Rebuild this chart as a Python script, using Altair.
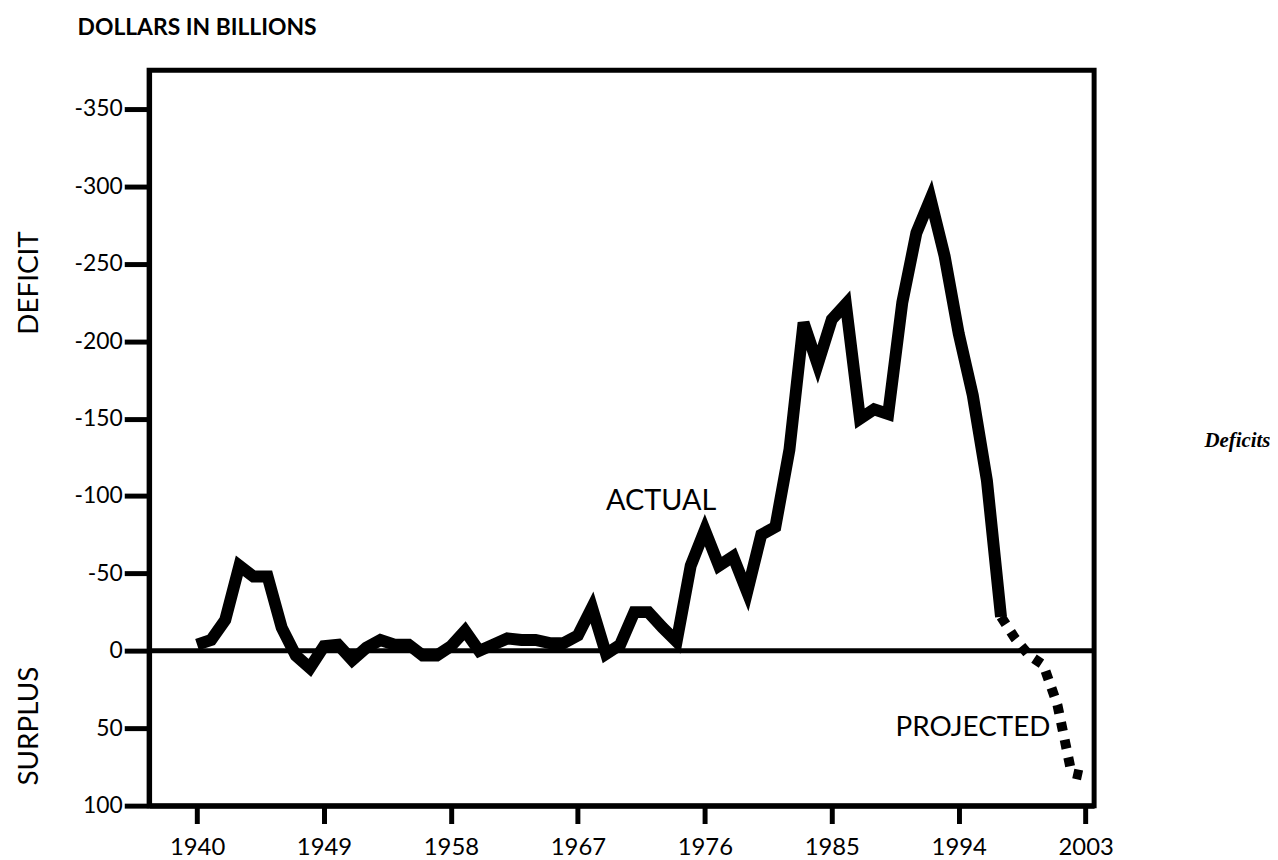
import altair as alt
import pandas as pd

# ---- data ----
years_actual = list(range(1940, 1998))
values_actual = [
    -4, -7, -20, -55, -48, -48, -15, 3, 11, -3,        # 1940-1949
    -4, 6, -2, -7, -4, -4, 3, 3, -3, -13,              # 1950-1959
    0, -4, -8, -7, -7, -5, -5, -10, -28, 2,            # 1960-1969
    -4, -25, -25, -15, -6, -55, -78, -55, -61, -38,    # 1970-1979
    -75, -80, -130, -212, -185, -214, -224, -150, -156, -153,  # 1980-1989
    -225, -270, -292, -255, -205, -165, -110, -22,     # 1990-1997
]
years_proj = [1997, 1998, 1999, 2000, 2001, 2002, 2003]
values_proj = [-22, -8, 3, 9, 35, 79, 81]

y_ticks = [-350, -300, -250, -200, -150, -100, -50, 0, 50, 100]
x_ticks = [1940, 1949, 1958, 1967, 1976, 1985, 1994, 2003]

ann_text = ["ACTUAL", "PROJECTED"]
ann_year = [1972.9, 2000.5]
ann_value = [-97, 50]

FONT = "Lato"

actual_df = pd.DataFrame({"year": years_actual, "value": values_actual})
proj_df = pd.DataFrame({"year": years_proj, "value": values_proj})
ann_df = pd.DataFrame({"t": ann_text, "year": ann_year, "value": ann_value})

x_scale = alt.Scale(domain=[1936.6, 2003.6], nice=False, zero=False)
y_scale = alt.Scale(domain=[-375, 100], reverse=True, nice=False, zero=False)

x_axis = alt.Axis(values=x_ticks, format="d", title=None, grid=False,
                  tickSize=18, tickWidth=5, tickColor="black",
                  domainWidth=5, domainColor="black",
                  labelFontSize=24, labelFont=FONT, labelColor="black",
                  labelPadding=12)
y_axis = alt.Axis(values=y_ticks, title=None, grid=False,
                  labelExpr="'' + datum.value",
                  tickSize=25, tickWidth=5, tickColor="black",
                  domainWidth=5, domainColor="black",
                  labelFontSize=23, labelFont=FONT, labelColor="black",
                  labelPadding=2)

actual = alt.Chart(actual_df).mark_line(
    color="black", strokeWidth=12, strokeJoin="miter", strokeCap="butt"
).encode(
    x=alt.X("year:Q", scale=x_scale, axis=x_axis),
    y=alt.Y("value:Q", scale=y_scale, axis=y_axis),
)

projected = alt.Chart(proj_df).mark_line(
    color="black", strokeWidth=10, strokeDash=[9, 9], strokeCap="butt"
).encode(
    x=alt.X("year:Q", scale=x_scale),
    y=alt.Y("value:Q", scale=y_scale),
)

zero = alt.Chart(pd.DataFrame({"v": [0]})).mark_rule(
    color="black", strokeWidth=5
).encode(y=alt.Y("v:Q", scale=y_scale))

ann_actual = alt.Chart(ann_df.iloc[[0]]).mark_text(
    align="center", baseline="middle", fontSize=29, font=FONT, color="black"
).encode(x=alt.X("year:Q", scale=x_scale), y=alt.Y("value:Q", scale=y_scale), text="t:N")
ann_proj = alt.Chart(ann_df.iloc[[1]]).mark_text(
    align="right", baseline="middle", fontSize=28, font=FONT, color="black"
).encode(x=alt.X("year:Q", scale=x_scale), y=alt.Y("value:Q", scale=y_scale), text="t:N")

title = alt.Chart(pd.DataFrame({"t": ["DOLLARS IN BILLIONS"]})).mark_text(
    align="left", baseline="middle", fontSize=23, font=FONT, fontWeight="bold", color="black"
).encode(x=alt.value(-72), y=alt.value(-43), text="t:N")

deficit = alt.Chart(pd.DataFrame({"t": ["DEFICIT"]})).mark_text(
    align="center", baseline="middle", fontSize=28, font=FONT, angle=270, color="black"
).encode(x=alt.value(-120), y=alt.value(214), text="t:N")

surplus = alt.Chart(pd.DataFrame({"t": ["SURPLUS"]})).mark_text(
    align="center", baseline="middle", fontSize=28, font=FONT, angle=270, color="black"
).encode(x=alt.value(-120), y=alt.value(660), text="t:N")

side = alt.Chart(pd.DataFrame({"t": ["Deficits"]})).mark_text(
    align="left", baseline="middle", fontSize=21, font="Liberation Serif",
    fontWeight="bold", fontStyle="italic", color="black"
).encode(x=alt.value(1062), y=alt.value(373), text="t:N")

chart = alt.layer(
    zero, actual, projected, ann_actual, ann_proj, title, deficit, surplus, side
).properties(
    width=951, height=740,
    padding={"left": 142, "top": 60, "right": 177, "bottom": 52},
    autosize="none",
    background="white",
).configure_view(
    stroke="black", strokeWidth=5
)

chart.save("out.html", embed_options={"renderer": "svg", "actions": False})
